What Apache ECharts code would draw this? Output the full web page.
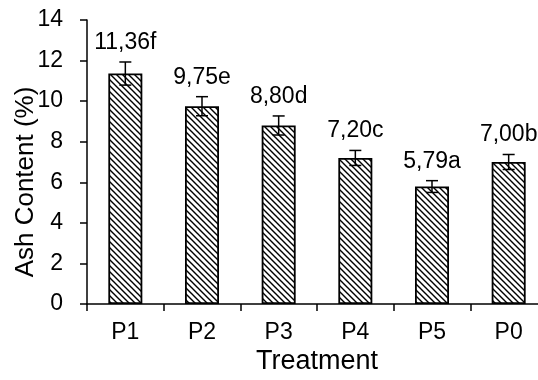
<!DOCTYPE html>
<html>
<head>
<meta charset="utf-8">
<script src="https://cdn.jsdelivr.net/npm/echarts@6/dist/echarts.min.js"></script>
<style>
html,body{margin:0;padding:0;background:#fff;}
#c{width:538px;height:380px;}
</style>
</head>
<body>
<div id="c"></div>
<script>
var categories = ['P1', 'P2', 'P3', 'P4', 'P5', 'P0'];
var ashValues = [11.36, 9.75, 8.80, 7.20, 5.79, 7.00];
var errorValues = [0.57, 0.47, 0.47, 0.37, 0.29, 0.37];
var letters = ['f', 'e', 'd', 'c', 'a', 'b'];
var yTicks = [0, 2, 4, 6, 8, 10, 12, 14];

var FONT = '"Liberation Sans", Arial, sans-serif';

function makeHatch() {
  var s = 6;
  var cv = document.createElement('canvas');
  cv.width = s; cv.height = s;
  var ctx = cv.getContext('2d');
  ctx.fillStyle = '#fff';
  ctx.fillRect(0, 0, s, s);
  ctx.strokeStyle = '#000';
  ctx.lineWidth = 1.4;
  ctx.beginPath();
  ctx.moveTo(-1, -1); ctx.lineTo(s + 1, s + 1);
  ctx.moveTo(-1 - s, -1); ctx.lineTo(1, s + 1);
  ctx.moveTo(s - 1, -1); ctx.lineTo(2 * s + 1, s + 1);
  ctx.stroke();
  return cv;
}

var labels = ashValues.map(function (v, i) {
  return v.toFixed(2).replace('.', ',') + letters[i];
});

var errData = ashValues.map(function (v, i) {
  return [i, v, errorValues[i], labels[i]];
});

var chart = echarts.init(document.getElementById('c'), null, {renderer: 'canvas'});
chart.setOption({
  backgroundColor: '#fff',
  animation: false,
  grid: {left: 87, top: 20, right: -9, bottom: 76, containLabel: false, outerBoundsMode: 'none'},
  xAxis: {
    type: 'category',
    data: categories,
    name: 'Treatment',
    nameLocation: 'middle',
    nameGap: 44,
    nameMoveOverlap: false,
    nameTextStyle: {fontFamily: FONT, fontSize: 27, color: '#000'},
    axisLine: {lineStyle: {color: '#000', width: 1.5}},
    axisTick: {show: true, length: 7, lineStyle: {color: '#000', width: 1.5}},
    axisLabel: {fontFamily: FONT, fontSize: 23, color: '#000', margin: 17},
    splitLine: {show: false}
  },
  yAxis: {
    type: 'value',
    min: 0, max: 14, interval: 2,
    name: 'Ash Content (%)',
    nameLocation: 'middle',
    nameGap: 48,
    nameMoveOverlap: false,
    nameTextStyle: {fontFamily: FONT, fontSize: 26, color: '#000', padding: [0, 40, 0, 0]},
    axisLine: {show: true, lineStyle: {color: '#000', width: 1.5}},
    axisTick: {show: true, length: 7, lineStyle: {color: '#000', width: 1.5}},
    axisLabel: {fontFamily: FONT, fontSize: 23, color: '#000', margin: 24},
    splitLine: {show: false}
  },
  series: [
    {
      type: 'bar',
      data: ashValues,
      barWidth: 34,
      itemStyle: {
        color: {image: makeHatch(), repeat: 'repeat'},
        borderColor: '#000',
        borderWidth: 1.8
      },
      z: 2
    },
    {
      type: 'custom',
      data: errData,
      z: 5,
      renderItem: function (params, api) {
        var i = api.value(0), v = api.value(1), e = api.value(2);
        var top = api.coord([i, v + e]);
        var bot = api.coord([i, v - e]);
        var x = top[0];
        var w = 6;
        var st = {stroke: '#000', lineWidth: 1.5};
        var txt = errData[params.dataIndex][3];
        return {
          type: 'group',
          children: [
            {type: 'line', shape: {x1: x, y1: top[1], x2: x, y2: bot[1]}, style: st},
            {type: 'line', shape: {x1: x - w, y1: top[1], x2: x + w, y2: top[1]}, style: st},
            {type: 'line', shape: {x1: x - w, y1: bot[1], x2: x + w, y2: bot[1]}, style: st},
            {type: 'text', style: {text: txt, x: x, y: top[1] - 8, align: 'center', verticalAlign: 'bottom',
              fontFamily: FONT, fontSize: 23, fill: '#000'}}
          ]
        };
      }
    }
  ]
});
</script>
</body>
</html>
